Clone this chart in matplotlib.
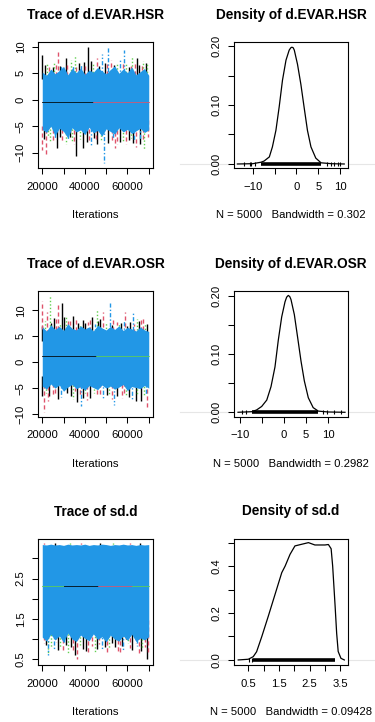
import matplotlib
matplotlib.use("Agg")
import matplotlib.pyplot as plt
from matplotlib.lines import Line2D
from matplotlib.transforms import blended_transform_factory

plt.rcParams["font.family"] = ["Liberation Sans", "DejaVu Sans"]

W, H = 375, 722
CHAIN_COLORS = ["black", "#DF536B", "#61D04F", "#2297E6"]
CHAIN_STYLES = ["-", (0, (3, 2)), (0, (1, 1.5)), (0, (1, 1.5, 3, 1.5))]

# ---------------- data ----------------
iter_grid = [20000, 22000, 24000, 26000, 28000, 30000, 32000, 34000, 36000,
             38000, 40000, 42000, 44000, 46000, 48000, 50000, 52000, 54000,
             56000, 58000, 60000, 62000, 64000, 66000, 68000, 70000]

# d.EVAR.HSR
hsr_blue_hi = [5.2, 4.6, 5.8, 4.9, 5.5, 6.3, 4.7, 5.9, 5.1, 6.0, 4.8, 5.6, 5.2,
               6.1, 5.4, 4.9, 5.7, 6.4, 5.0, 5.8, 5.1, 6.2, 4.7, 5.3, 5.9, 4.6]
hsr_blue_lo = [-5.6, -6.2, -5.0, -6.8, -5.4, -6.0, -7.2, -5.3, -6.1, -5.7, -6.6,
               -5.2, -6.3, -5.8, -6.9, -5.5, -6.0, -6.5, -5.3, -6.1, -5.6, -6.4,
               -5.9, -5.4, -6.2, -5.7]
hsr_mean = -0.5
hsr_mean_segs = [(20000, 44000, 0), (44000, 70000, 1)]
hsr_spike_iter = [20100, 27600, 26500, 30950, 35500, 39700, 41300, 42900, 47900,
                  51000, 58200, 57800, 60800, 63400, 67400, 62300, 52400, 49500,
                  33700, 36000, 24900, 22300, 45500, 55000, 65500, 68800, 29000,
                  38000,
                  21200, 23000, 25500, 28500, 31800, 34500, 37200, 40200, 43800,
                  46800, 50200, 53600, 56300, 59500, 61500, 64600, 66800, 69300,
                  20100, 21800, 28100, 32100, 36000, 39200, 45100, 49200, 45500,
                  52700, 55100, 60800, 64000, 68000, 31300, 40800, 24900, 22500,
                  69700, 26700, 54000, 34000, 58000, 62500, 43000, 66000,
                  21000, 23600, 25800, 29500, 33000, 35000, 37500, 41800, 44200,
                  47500, 50800, 53000, 56500, 59300, 61800, 63200, 65800, 67300]
hsr_spike_val = [8.4, 9.1, 6.8, 7.8, 8.4, 7.2, 9.9, 7.4, 8.6,
                 10.0, 9.4, 7.2, 6.2, 7.2, 7.3, 8.1, 7.5, 6.9,
                 7.5, 6.2, 6.2, 7.0, 7.8, 6.8, 6.5, 7.0, 6.5,
                 6.8,
                 6.6, 6.1, 7.2, 6.4, 6.9, 6.3, 7.0, 6.5, 6.9,
                 6.4, 7.1, 6.6, 7.6, 6.8, 6.4, 7.9, 6.6, 6.9,
                 -9.5, -10.4, -7.0, -7.7, -10.7, -9.2, -7.6, -12.0, -8.4,
                 -7.9, -8.4, -7.6, -8.9, -9.5, -8.4, -7.9, -7.9, -7.0,
                 -7.0, -9.2, -9.2, -8.0, -7.8, -8.2, -8.6, -7.4,
                 -7.4, -8.0, -7.2, -7.9, -7.1, -8.3, -7.5, -8.0, -7.2,
                 -7.7, -8.1, -7.3, -7.9, -8.3, -7.2, -7.8, -8.4, -7.6]
hsr_spike_chain = [0, 1, 1, 0, 2, 0, 0, 0, 3,
                   3, 3, 1, 0, 1, 2, 2, 1, 0,
                   2, 1, 0, 2, 1, 2, 0, 0, 3,
                   3,
                   0, 1, 2, 0, 1, 3, 0, 1, 2,
                   0, 1, 0, 3, 2, 1, 0, 1, 2,
                   1, 1, 0, 3, 0, 0, 1, 3, 0,
                   1, 1, 0, 1, 2, 2, 0, 1, 2,
                   1, 0, 1, 2, 2, 0, 3, 3,
                   0, 2, 3, 1, 0, 1, 2, 1, 0,
                   2, 0, 3, 0, 1, 2, 3, 0, 1]
hsr_dens_x = [-13.5, -10.0, -8.1, -7.4, -6.2, -5.5, -4.7, -3.95, -3.2, -2.4,
              -1.67, -1.3, -1.05, -0.75, -0.5, 0.23, 1.0, 1.76, 2.5, 3.3, 4.4,
              5.6, 8.0, 10.9]
hsr_dens_y = [0.0, 0.0005, 0.003, 0.005, 0.012, 0.029, 0.057, 0.097, 0.142,
              0.176, 0.193, 0.197, 0.198, 0.197, 0.193, 0.169, 0.135, 0.095,
              0.057, 0.029, 0.010, 0.002, 0.0005, 0.0]
hsr_rug = (-8.1, 5.6)
hsr_rug_out = [-12.0, -10.7, -10.4, -9.5, 6.9, 7.8, 8.6, 9.4, 10.0]

# d.EVAR.OSR
osr_blue_hi = [6.8, 6.0, 7.2, 6.3, 6.9, 6.1, 7.4, 6.5, 6.2, 7.0, 6.4, 6.8, 6.0,
               7.1, 6.6, 6.2, 6.9, 6.3, 7.0, 6.1, 6.7, 6.4, 6.0, 6.8, 6.2, 5.9]
osr_blue_lo = [-4.6, -5.2, -4.2, -5.0, -4.4, -5.6, -4.8, -4.3, -5.1, -4.7, -5.4,
               -4.5, -4.9, -5.3, -4.4, -5.0, -4.6, -5.2, -4.8, -4.3, -5.5, -4.7,
               -4.9, -5.1, -4.5, -5.0]
osr_mean = 1.1
osr_mean_segs = [(20000, 45000, 0), (45000, 70000, 2)]
osr_spike_iter = [20100, 23700, 22200, 20100, 27300, 29400, 31300, 34400, 36800,
                  41300, 45600, 47100, 48700, 51600, 52700, 55100, 59000, 55800,
                  62700, 66200, 68100, 60000, 39200, 25500, 33000, 43500, 64500,
                  21500, 24200, 26300, 28300, 30200, 32300, 35700, 37800, 40300,
                  42300, 44600, 46400, 49800, 53300, 56800, 58200, 61300, 63300,
                  65400, 67300, 69300,
                  20600, 20100, 24900, 30500, 33700, 35200, 39200, 38400, 41000,
                  47100, 50300, 53900, 57400, 63800, 69400, 67600, 62000, 44100,
                  27500, 36500, 59500, 22800,
                  21700, 23300, 26200, 28700, 31700, 34500, 37600, 40200, 42600,
                  45700, 48400, 51200, 52700, 55300, 58600, 60700, 64700, 66300,
                  68700]
osr_spike_val = [11.7, 12.9, 9.7, 7.0, 11.3, 11.3, 8.8, 8.8, 7.5,
                 7.8, 10.0, 8.4, 9.7, 11.3, 7.2, 7.8, 9.7, 7.5,
                 9.7, 8.1, 7.5, 7.0, 8.1, 8.5, 8.0, 8.6, 8.4,
                 8.0, 7.6, 8.4, 7.4, 8.6, 7.9, 8.3, 7.2, 7.6,
                 8.1, 7.4, 8.0, 7.7, 8.1, 7.5, 7.9, 7.8, 7.4,
                 7.9, 8.6, 7.3,
                 -9.5, -6.6, -6.6, -5.6, -6.6, -5.6, -6.9, -8.5, -7.2,
                 -6.6, -6.3, -8.2, -6.9, -7.5, -8.8, -6.6, -7.2, -6.0,
                 -7.0, -7.6, -6.4, -7.5,
                 -6.0, -6.5, -6.2, -6.8, -5.9, -7.1, -6.3, -6.0, -6.9,
                 -6.4, -7.0, -6.1, -7.0, -6.5, -6.0, -6.8, -6.2, -7.4,
                 -6.4]
osr_spike_chain = [1, 2, 1, 0, 1, 0, 2, 0, 0,
                   1, 2, 0, 1, 3, 0, 1, 1, 2,
                   3, 1, 2, 0, 0, 0, 1, 0, 2,
                   2, 0, 1, 2, 0, 1, 1, 2, 0,
                   1, 3, 0, 2, 1, 0, 3, 0, 1,
                   0, 1, 0,
                   1, 0, 1, 2, 0, 1, 0, 3, 1,
                   1, 0, 3, 1, 0, 1, 2, 3, 2,
                   0, 0, 2, 1,
                   2, 0, 1, 3, 0, 2, 1, 2, 0,
                   1, 3, 2, 1, 0, 1, 0, 2, 0,
                   3]
osr_dens_x = [-10.4, -7.3, -6.2, -5.05, -3.9, -2.94, -2.04, -1.29, -0.52, 0.23,
              0.6, 0.97, 1.3, 1.58, 2.34, 3.1, 3.85, 4.6, 5.5, 6.6, 7.77, 10.0,
              13.8]
osr_dens_y = [0.0, 0.001, 0.004, 0.010, 0.021, 0.044, 0.078, 0.124, 0.164,
              0.190, 0.198, 0.201, 0.199, 0.194, 0.168, 0.128, 0.088, 0.054,
              0.025, 0.008, 0.002, 0.0005, 0.0]
osr_rug = (-7.3, 7.8)
osr_rug_out = [-9.5, -8.5, 8.8, 9.7, 11.3, 12.9]

# sd.d
sdd_blue_hi = [3.34, 3.33, 3.35, 3.33, 3.34, 3.32, 3.35, 3.33, 3.34, 3.33, 3.35,
               3.32, 3.34, 3.33, 3.35, 3.34, 3.32, 3.34, 3.33, 3.35, 3.33, 3.34,
               3.32, 3.34, 3.33, 3.34]
sdd_blue_lo = [1.05, 0.95, 1.12, 0.98, 1.08, 0.92, 1.15, 1.0, 0.94, 1.1, 1.02,
               0.96, 1.13, 0.99, 1.06, 0.93, 1.1, 1.0, 0.95, 1.08, 0.97, 1.12,
               0.94, 1.03, 0.98, 1.06]
sdd_mean = 2.31
sdd_mean_segs = [(20000, 30000, 2), (30000, 46000, 0), (46000, 62000, 1),
                 (62000, 70000, 2)]
sdd_spike_iter = [20600, 22500, 27300, 29700, 35200, 36500, 39200, 41600, 45500,
                  44800, 50300, 52700, 54300, 56700, 62300, 63800, 67000, 69000,
                  65400, 25700, 48000, 32100, 22500, 59200, 31000, 58000,
                  21800, 24000, 26600, 28400, 30200, 33400, 34200, 37700, 40600,
                  43200, 46700, 49300, 51400, 55600, 57600, 60400, 61400, 64600,
                  66200, 68200, 69700,
                  21000, 26000, 33000, 38000, 47000, 53000, 61000, 66000]
sdd_spike_val = [0.9, 0.61, 0.73, 0.73, 0.61, 0.52, 0.75, 0.65, 0.75,
                 0.68, 0.65, 0.9, 0.81, 0.65, 0.73, 0.9, 0.75, 0.52,
                 0.61, 0.73, 0.75, 0.65, 0.65, 1.0, 0.85, 0.7,
                 0.85, 0.8, 0.92, 0.78, 0.88, 0.8, 0.72, 0.85, 0.7,
                 0.83, 0.88, 0.8, 0.76, 0.7, 0.82, 0.9, 0.78, 0.84,
                 0.7, 0.8, 0.66,
                 3.37, 3.37, 3.38, 3.37, 3.37, 3.38, 3.37, 3.37]
sdd_spike_chain = [1, 3, 0, 1, 0, 1, 0, 1, 0,
                   2, 1, 0, 0, 1, 0, 1, 2, 0,
                   1, 3, 3, 2, 2, 0, 0, 3,
                   0, 2, 1, 2, 3, 0, 1, 2, 0,
                   1, 1, 0, 2, 1, 0, 2, 1, 3,
                   0, 1, 1,
                   1, 0, 2, 1, 0, 2, 1, 0]
sdd_dens_x = [0.17, 0.5, 0.66, 0.77, 0.94, 1.15, 1.37, 1.59, 1.70, 1.86, 2.02,
              2.24, 2.46, 2.67, 3.0, 3.11, 3.2, 3.25, 3.33, 3.38, 3.43, 3.52,
              3.63]
sdd_dens_y = [0.0, 0.003, 0.014, 0.035, 0.10, 0.186, 0.279, 0.372, 0.40, 0.45,
              0.486, 0.493, 0.50, 0.49, 0.49, 0.492, 0.474, 0.40, 0.229, 0.114,
              0.036, 0.007, 0.0]
sdd_rug = (0.66, 3.33)
sdd_rug_out = [0.52, 0.61]

titles_trace = ["Trace of d.EVAR.HSR", "Trace of d.EVAR.OSR", "Trace of sd.d"]
titles_dens = ["Density of d.EVAR.HSR", "Density of d.EVAR.OSR", "Density of sd.d"]
dens_xlabels = ["N = 5000   Bandwidth = 0.302", "N = 5000   Bandwidth = 0.2982",
                "N = 5000   Bandwidth = 0.09428"]

trace_xticks = [20000, 30000, 40000, 50000, 60000, 70000]
trace_xticklabels = ["20000", "", "40000", "", "60000", ""]

# ---------------- layout (pixels) ----------------
rows_y = [(42, 168), (291, 416.7), (538.5, 665)]
trace_x = (38, 153)
dens_x = (234, 348)

FS = 8.1
fig = plt.figure(figsize=(W / 100, H / 100), dpi=100)


def add_ax(xr, yr):
    return fig.add_axes([xr[0] / W, 1 - yr[1] / H, (xr[1] - xr[0]) / W, (yr[1] - yr[0]) / H])


def style_ax(ax):
    for s in ax.spines.values():
        s.set_linewidth(0.8)
        s.set_zorder(5)
    ax.tick_params(direction="out", length=4.3, width=0.75, labelsize=FS)
    ax.tick_params(axis="x", pad=5.5)
    ax.tick_params(axis="y", pad=4.5, labelrotation=90)
    for lab in ax.get_yticklabels():
        lab.set_va("center")


def draw_trace(ax, blue_hi, blue_lo, mean, segs, sp_iter, sp_val, sp_chain):
    # spikes start halfway between the mean and their tip, hidden by the band
    for ch in [0, 1, 2, 3]:
        xs = [x for x, c in zip(sp_iter, sp_chain) if c == ch]
        vs = [v for v, c in zip(sp_val, sp_chain) if c == ch]
        base = [mean + 0.5 * (v - mean) for v in vs]
        ax.vlines(xs, base, vs, color=CHAIN_COLORS[ch], linestyle=CHAIN_STYLES[ch],
                  lw=1.0, zorder=1 + ch * 0.1 + (1 if ch == 3 else 0))
        if ch == 2:
            # blue chain is drawn last in R, so its band covers the others
            ax.fill_between(iter_grid, blue_lo, blue_hi, color=CHAIN_COLORS[3],
                            lw=0, zorder=2)
    for a, b, ch in segs:
        ax.plot([a, b], [mean, mean], color=CHAIN_COLORS[ch], lw=0.7, alpha=0.8, zorder=3)
    ax.set_xlim(18000, 72000)
    ax.set_xticks(trace_xticks)
    ax.set_xticklabels(trace_xticklabels)


def draw_density(ax, dx, dy, rug, rug_out):
    ax.plot(dx, dy, color="black", lw=0.9)
    ax.plot(list(rug), [0, 0], color="black", lw=2.6, solid_capstyle="butt")
    ax.plot(rug_out, [0] * len(rug_out), ls="none", marker="|", ms=2.5, mew=0.8, color="black")


axes_t = [add_ax(trace_x, r) for r in rows_y]
axes_d = [add_ax(dens_x, r) for r in rows_y]

draw_trace(axes_t[0], hsr_blue_hi, hsr_blue_lo, hsr_mean, hsr_mean_segs,
           hsr_spike_iter, hsr_spike_val, hsr_spike_chain)
axes_t[0].set_ylim(-12.9, 10.9)
axes_t[0].set_yticks([-10, -5, 0, 5, 10])
axes_t[0].set_yticklabels(["\u221210", "\u22125", "0", "5", "10"])

draw_trace(axes_t[1], osr_blue_hi, osr_blue_lo, osr_mean, osr_mean_segs,
           osr_spike_iter, osr_spike_val, osr_spike_chain)
axes_t[1].set_ylim(-10.5, 13.7)
axes_t[1].set_yticks([-10, -5, 0, 5, 10])
axes_t[1].set_yticklabels(["\u221210", "\u22125", "0", "5", "10"])

draw_trace(axes_t[2], sdd_blue_hi, sdd_blue_lo, sdd_mean, sdd_mean_segs,
           sdd_spike_iter, sdd_spike_val, sdd_spike_chain)
axes_t[2].set_ylim(0.36, 3.49)
axes_t[2].set_yticks([0.5, 1.0, 1.5, 2.0, 2.5, 3.0])
axes_t[2].set_yticklabels(["0.5", "", "1.5", "", "2.5", ""])

draw_density(axes_d[0], hsr_dens_x, hsr_dens_y, hsr_rug, hsr_rug_out)
axes_d[0].set_xlim(-14.27, 11.76)
axes_d[0].set_ylim(-0.0068, 0.2068)
axes_d[0].set_xticks([-10, -5, 0, 5, 10])
axes_d[0].set_xticklabels(["\u221210", "", "0", "5", "10"])
axes_d[0].set_yticks([0, 0.05, 0.10, 0.15, 0.20])
axes_d[0].set_yticklabels(["0.00", "", "0.10", "", "0.20"])

draw_density(axes_d[1], osr_dens_x, osr_dens_y, osr_rug, osr_rug_out)
axes_d[1].set_xlim(-11.31, 14.48)
axes_d[1].set_ylim(-0.0076, 0.2086)
axes_d[1].set_xticks([-10, -5, 0, 5, 10])
axes_d[1].set_xticklabels(["\u221210", "", "0", "5", "10"])
axes_d[1].set_yticks([0, 0.05, 0.10, 0.15, 0.20])
axes_d[1].set_yticklabels(["0.00", "", "0.10", "", "0.20"])

draw_density(axes_d[2], sdd_dens_x, sdd_dens_y, sdd_rug, sdd_rug_out)
axes_d[2].set_xlim(0.033, 3.75)
axes_d[2].set_ylim(-0.0215, 0.5176)
axes_d[2].set_xticks([0.5, 1.0, 1.5, 2.0, 2.5, 3.0, 3.5])
axes_d[2].set_xticklabels(["0.5", "", "1.5", "", "2.5", "", "3.5"])
axes_d[2].set_yticks([0, 0.1, 0.2, 0.3, 0.4, 0.5])
axes_d[2].set_yticklabels(["0.0", "", "0.2", "", "0.4", ""])

for ax in axes_t + axes_d:
    style_ax(ax)

# titles and axis labels
for i, (top, bot) in enumerate(rows_y):
    for xr, title, xlab in [(trace_x, titles_trace[i], "Iterations"),
                            (dens_x, titles_dens[i], dens_xlabels[i])]:
        cx = (xr[0] + xr[1]) / 2 / W
        fig.text(cx, 1 - (top - 27) / H, title, ha="center", va="center",
                 fontsize=9.8, fontweight="bold")
        fig.text(cx, 1 - (bot + 47) / H, xlab, ha="center", va="center", fontsize=FS)

# faint screenshot line at density zero level
for ax in axes_d:
    tr = blended_transform_factory(fig.transFigure, ax.transData)
    fig.add_artist(Line2D([180 / W, 1.0], [0, 0], transform=tr, color="#e6e6e6",
                          lw=0.8, zorder=0))

fig.savefig("out.png", dpi=100)
